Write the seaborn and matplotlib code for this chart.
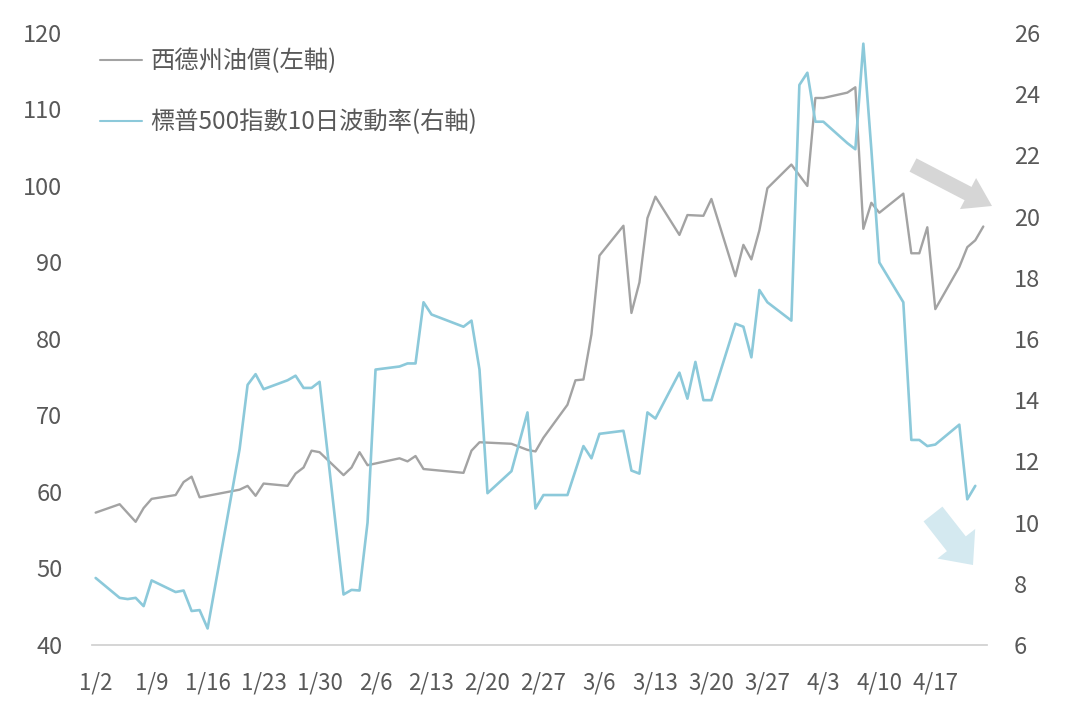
import datetime as dt
import pandas as pd
import matplotlib
matplotlib.use("Agg")
import matplotlib.pyplot as plt
from matplotlib.patches import FancyArrow
from matplotlib.transforms import IdentityTransform
import seaborn as sns

# ---- data (day offsets from 1/2) ----
start = dt.date(2026, 1, 2)

wti_days = [0, 3, 5, 6, 7, 10, 11, 12, 13, 18, 19, 20, 21, 24, 25, 26, 27, 28,
            31, 32, 33, 34, 38, 39, 40, 41, 46, 47, 48, 52, 54, 55, 56, 59, 60,
            61, 62, 63, 66, 67, 68, 69, 70, 73, 74, 76, 77, 80, 81, 82, 83, 84,
            87, 89, 90, 91, 94, 95, 96, 97, 98, 101, 102, 103, 104, 105, 108,
            109, 110, 111]
wti_price = [57.3, 58.4, 56.1, 57.9, 59.1, 59.6, 61.3, 62.0, 59.3, 60.3, 60.8,
             59.5, 61.1, 60.8, 62.4, 63.2, 65.4, 65.2, 62.2, 63.2, 65.2, 63.5,
             64.4, 64.0, 64.7, 63.0, 62.5, 65.4, 66.5, 66.3, 65.5, 65.3, 67.1,
             71.4, 74.6, 74.7, 80.6, 90.9, 94.8, 83.4, 87.4, 95.8, 98.6, 93.6,
             96.2, 96.1, 98.3, 88.2, 92.3, 90.4, 94.2, 99.7, 102.8, 100.0,
             111.5, 111.5, 112.2, 112.9, 94.4, 97.8, 96.5, 99.0, 91.2, 91.2,
             94.6, 83.9, 89.4, 92.0, 92.9, 94.7]

vol_days = [0, 3, 4, 5, 6, 7, 10, 11, 12, 13, 14, 18, 19, 20, 21, 24, 25, 26,
            27, 28, 31, 32, 33, 34, 35, 38, 39, 40, 41, 42, 46, 47, 48, 49, 52,
            54, 55, 56, 59, 60, 61, 62, 63, 66, 67, 68, 69, 70, 73, 74, 75, 76,
            77, 80, 81, 82, 83, 84, 87, 88, 89, 90, 91, 94, 95, 96, 97, 98, 101,
            102, 103, 104, 105, 108, 109, 110]
vol_value = [8.19, 7.54, 7.5, 7.54, 7.27, 8.11, 7.73, 7.78, 7.11, 7.14, 6.54,
             12.4, 14.5, 14.85, 14.36, 14.65, 14.8, 14.4, 14.4, 14.6, 7.65, 7.8,
             7.78, 10.0, 15.0, 15.1, 15.2, 15.2, 17.2, 16.8, 16.4, 16.6, 15.0,
             10.96, 11.68, 13.6, 10.46, 10.9, 10.9, 11.7, 12.5, 12.1, 12.9, 13.0,
             11.7, 11.6, 13.6, 13.4, 14.9, 14.05, 15.25, 14.0, 14.0, 16.5, 16.4,
             15.4, 17.6, 17.2, 16.6, 24.3, 24.7, 23.1, 23.1, 22.4, 22.2, 25.65,
             22.2, 18.5, 17.2, 12.7, 12.7, 12.5, 12.55, 13.2, 10.76, 11.2]

tick_labels = ["1/2", "1/9", "1/16", "1/23", "1/30", "2/6", "2/13", "2/20",
               "2/27", "3/6", "3/13", "3/20", "3/27", "4/3", "4/10", "4/17"]

wti_label = "西德州油價(左軸)"
vol_label = "標普500指數10日波動率(右軸)"

# ---- build frames ----
t0 = pd.Timestamp(start)
wti = pd.DataFrame({"date": [t0 + pd.Timedelta(days=d) for d in wti_days],
                    "price": wti_price})
vol = pd.DataFrame({"date": [t0 + pd.Timedelta(days=d) for d in vol_days],
                    "vol": vol_value})

sns.set_theme(style="white")
plt.rcParams["font.family"] = ["Noto Sans CJK TC", "DejaVu Sans"]

GRAY = "#a3a3a3"
BLUE = "#8cc9da"
TXT = "#595959"

fig = plt.figure(figsize=(10.77, 7.18), dpi=100)
ax = fig.add_axes([0.0851, 0.1017, 0.8316, 0.8524])
ax2 = ax.twinx()

sns.lineplot(data=wti, x="date", y="price", ax=ax, color=GRAY, lw=1.7,
             label=wti_label, legend=False)
sns.lineplot(data=vol, x="date", y="vol", ax=ax2, color=BLUE, lw=1.9,
             label=vol_label, legend=False)

# x axis: weekly slots, points in the middle of each day slot
half = pd.Timedelta(hours=12)
ax.set_xlim(t0 - half, t0 + pd.Timedelta(days=112) - half)
label_pos = [t0 + pd.Timedelta(days=7 * i) for i in range(len(tick_labels))]
ax.set_xticks(label_pos)
ax.set_xticklabels(tick_labels, fontsize=16, color=TXT)
ax.set_xticks([t0 + pd.Timedelta(days=7 * i) - half for i in range(17)], minor=True)
ax.tick_params(axis="x", which="major", length=0, pad=19)
ax.tick_params(axis="x", which="minor", length=8, color="#d0d0d0", width=1)

ax.set_ylim(40, 120)
ax.set_yticks(range(40, 121, 10))
ax2.set_ylim(6, 26)
ax2.set_yticks(range(6, 27, 2))
ax.tick_params(axis="y", length=0, pad=21, labelsize=17, labelcolor=TXT)
ax2.tick_params(axis="y", length=0, pad=19, labelsize=17, labelcolor=TXT)

for a in (ax, ax2):
    a.set_xlabel("")
    a.set_ylabel("")
    a.grid(False)
    for s in ("left", "right", "top"):
        a.spines[s].set_visible(False)
ax.spines["bottom"].set_color("#d0d0d0")
ax2.spines["bottom"].set_visible(False)

# legend
handles = ax.get_lines()[:1] + ax2.get_lines()[:1]
leg = ax.legend(handles, [wti_label, vol_label], loc="upper left",
                bbox_to_anchor=(-0.002, 0.991), frameon=False, fontsize=17.5,
                handlelength=1.75, handletextpad=0.35, labelspacing=1.45,
                borderaxespad=0.0)
for t in leg.get_texts():
    t.set_color(TXT)
for l in leg.get_lines():
    l.set_linewidth(1.5)

# decorative trend arrows (figure pixel coords)
H = 718
fig.add_artist(FancyArrow(913, H - 165, 79, -41, width=15, head_width=35,
                          head_length=27, length_includes_head=True,
                          color="#d6d6d6", lw=0, transform=IdentityTransform()))
fig.add_artist(FancyArrow(933, H - 514, 40, -51, width=24, head_width=48,
                          head_length=27, length_includes_head=True,
                          color="#d4e9f0", lw=0, transform=IdentityTransform()))

fig.savefig("out.png", dpi=100)
